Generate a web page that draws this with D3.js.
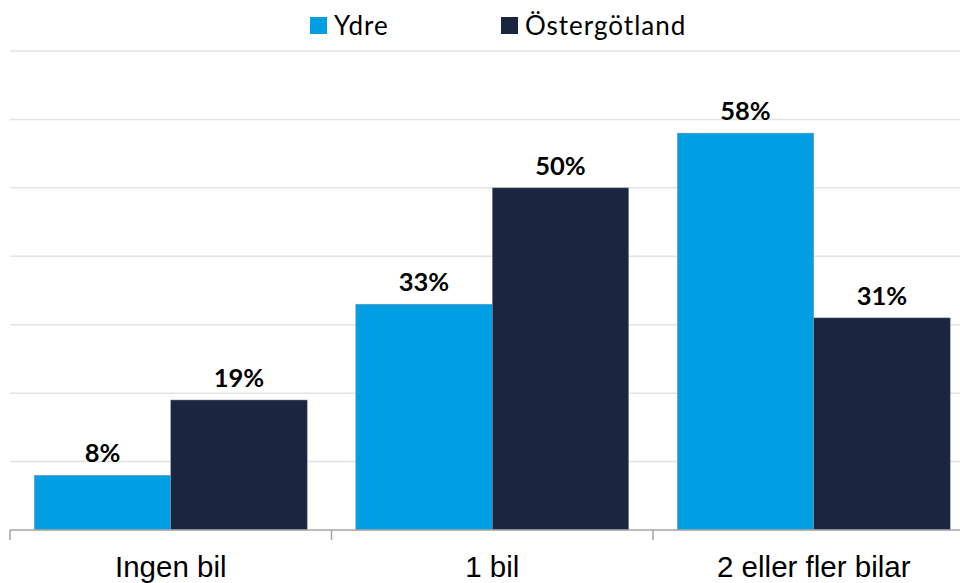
<!DOCTYPE html>
<html><head><meta charset="utf-8">
<script src="https://cdn.jsdelivr.net/npm/d3@7"></script>
<style>html,body{margin:0;padding:0;background:#fff;}svg{display:block;}</style>
</head><body>
<svg id="chart" width="960" height="583"></svg>
<script>
const categories = ["Ingen bil", "1 bil", "2 eller fler bilar"];
const seriesNames = ["Ydre", "Östergötland"];
const ydreValues = [8, 33, 58];
const ostValues = [19, 50, 31];
const gridTicks = [0, 10, 20, 30, 40, 50, 60, 70];
const colors = ["#009FE3", "#1A263F"];

const svg = d3.select("#chart");
const x0 = d3.scaleBand().domain(categories).range([10, 974.5]).padding(0);
const x1 = d3.scaleBand().domain(seriesNames).range([0, x0.step()]).paddingInner(0).paddingOuter(0.178);
const y = d3.scaleLinear().domain([0, 70]).range([530, 51]);

// gridlines
svg.append("g").selectAll("line").data(gridTicks.filter(d => d > 0)).join("line")
  .attr("x1", 10).attr("x2", 960)
  .attr("y1", d => y(d)).attr("y2", d => y(d))
  .attr("stroke", "#e3e3e3").attr("stroke-width", 1.5);

const data = categories.map((c, i) => ({cat: c, vals: [ydreValues[i], ostValues[i]]}));

const groups = svg.append("g").selectAll("g").data(data).join("g")
  .attr("transform", d => `translate(${x0(d.cat)},0)`);

groups.selectAll("rect").data(d => d.vals.map((v, j) => ({s: seriesNames[j], v, j}))).join("rect")
  .attr("x", d => x1(d.s)).attr("width", x1.bandwidth())
  .attr("y", d => y(d.v)).attr("height", d => y(0) - y(d.v))
  .attr("fill", d => colors[d.j])
  .attr("stroke", "#8d96a6").attr("stroke-width", 0.5);

groups.selectAll("text").data(d => d.vals.map((v, j) => ({s: seriesNames[j], v, j}))).join("text")
  .attr("x", d => x1(d.s) + x1.bandwidth() / 2)
  .attr("y", d => y(d.v) - 13)
  .attr("text-anchor", "middle")
  .attr("font-family", "Lato, 'Open Sans', sans-serif")
  .attr("font-weight", "bold").attr("font-size", 25.5).attr("fill", "#000")
  .text(d => d.v + "%");

// x axis
const axisG = svg.append("g").attr("transform", "translate(0,530)");
axisG.append("line").attr("x1", 10).attr("x2", 960).attr("y1", 0).attr("y2", 0)
  .attr("stroke", "#a6a6a6").attr("stroke-width", 1.5);
const tickPos = categories.map(c => x0(c)).concat([x0.range()[1]]);
axisG.selectAll("line.tk").data(tickPos).join("line").attr("class", "tk")
  .attr("x1", d => d).attr("x2", d => d).attr("y1", 0).attr("y2", 10)
  .attr("stroke", "#a6a6a6").attr("stroke-width", 1.5);
axisG.selectAll("text.cl").data(categories).join("text").attr("class", "cl")
  .attr("x", d => x0(d) + x0.bandwidth() / 2).attr("y", 47)
  .attr("text-anchor", "middle")
  .attr("font-family", "'Liberation Sans', Arial, sans-serif")
  .attr("font-size", 29.5).attr("fill", "#000")
  .text(d => d);

// legend
const legendX = [310, 501];
const leg = svg.append("g").selectAll("g").data(seriesNames).join("g")
  .attr("transform", (d, i) => `translate(${legendX[i]},17)`);
leg.append("rect").attr("width", 17).attr("height", 17).attr("fill", (d, i) => colors[i]);
leg.append("text").attr("x", 24).attr("y", 17.5)
  .attr("font-family", "Lato, 'Open Sans', sans-serif")
  .attr("letter-spacing", 1)
  .attr("font-size", 26).attr("fill", "#000").text(d => d);
</script>
</body></html>
